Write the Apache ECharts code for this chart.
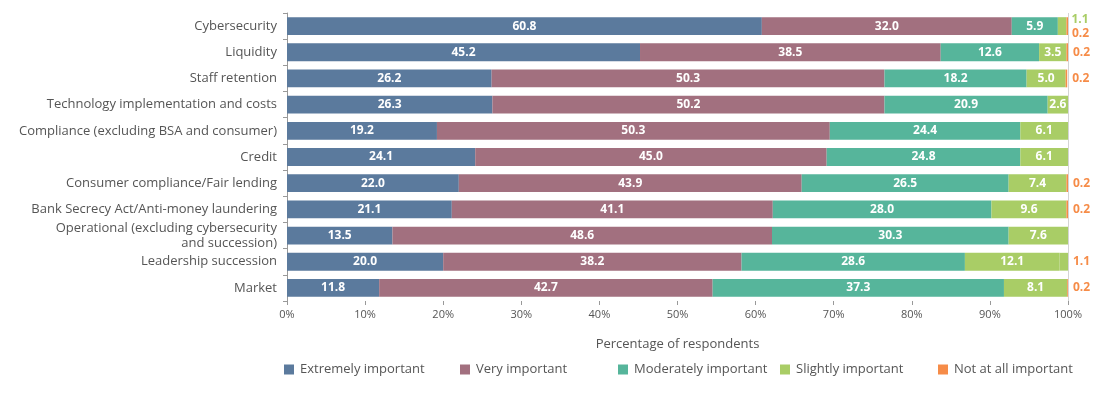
<!DOCTYPE html>
<html>
<head>
    <meta charset="UTF-8">
    <title>Risk importance</title>
    <script src="https://cdn.jsdelivr.net/npm/echarts@6/dist/echarts.min.js"></script>
    <style type="text/css">
        html, body, #main {
            height: 100%;
            width: 100%;
            margin: 0;
            padding: 0;
            background: #fff;
        }
    </style>
</head>
<body>
<div id="main"></div>
<script type="text/javascript">
    // categories, top to bottom
    var categories = [
        'Cybersecurity', 'Liquidity', 'Staff retention', 'Technology implementation and costs',
        'Compliance (excluding BSA and consumer)', 'Credit', 'Consumer compliance/Fair lending',
        'Bank Secrecy Act/Anti-money laundering', 'Operational (excluding cybersecurity\nand succession)',
        'Leadership succession', 'Market'
    ];
    var seriesNames = ['Extremely important', 'Very important', 'Moderately important', 'Slightly important', 'Not at all important'];
    var extremely = [60.8, 45.2, 26.2, 26.3, 19.2, 24.1, 22.0, 21.1, 13.5, 20.0, 11.8];
    var very = [32.0, 38.5, 50.3, 50.2, 50.3, 45.0, 43.9, 41.1, 48.6, 38.2, 42.7];
    var moderately = [5.9, 12.6, 18.2, 20.9, 24.4, 24.8, 26.5, 28.0, 30.3, 28.6, 37.3];
    var slightly = [1.1, 3.5, 5.0, 2.6, 6.1, 6.1, 7.4, 9.6, 7.6, 12.1, 8.1];
    var notAtAll = [0.2, 0.2, 0.2, 0, 0, 0, 0.2, 0.2, 0, 1.1, 0.2];
    var xTicks = [0, 10, 20, 30, 40, 50, 60, 70, 80, 90, 100];

    var colors = ['#5b7a9d', '#a2707f', '#56b59b', '#a9cd66', '#f68c48'];
    var font = 'Open Sans';
    // legend item x positions (px), one legend block per item
    var legendLeft = [279, 455, 613, 775, 933];

    var mycharts = echarts.init(document.getElementById('main'));

    function fmt(p) {
        return p.value > 0 ? p.value.toFixed(1) : '';
    }

    // build series from arrays
    var raw = [extremely, very, moderately, slightly, notAtAll];
    var series = raw.map(function (arr, i) {
        var s = {
            name: seriesNames[i],
            type: 'bar',
            stack: 'total',
            barWidth: '68%',
            itemStyle: {color: colors[i]},
            label: {
                show: true,
                position: 'inside',
                color: '#fff',
                fontWeight: 'bold',
                fontFamily: font,
                fontSize: 12,
                formatter: fmt
            },
            data: arr.slice()
        };
        if (i === 3) {
            // cybersecurity slightly value sits outside, above the 0.2
            s.data[0] = {
                value: arr[0],
                label: {position: 'right', distance: 5, color: colors[3], offset: [0, -7]}
            };
        }
        if (i === 4) {
            s.label = {
                show: true,
                position: 'right',
                distance: 5,
                color: colors[4],
                fontWeight: 'bold',
                fontFamily: font,
                fontSize: 12,
                formatter: fmt
            };
            s.data[0] = {value: arr[0], label: {offset: [-1, 7]}};
            s.data[9] = {value: arr[9], itemStyle: {color: colors[3]}};
            s.markLine = {
                silent: true,
                symbol: 'none',
                label: {show: false},
                lineStyle: {color: '#d4d4d4', width: 1, type: 'solid'},
                data: [{xAxis: 100}]
            };
        }
        return s;
    });

    var legends = seriesNames.map(function (n, i) {
        return {
            top: 358,
            left: legendLeft[i],
            itemWidth: 10,
            itemHeight: 10,
            itemGap: 6,
            icon: 'rect',
            textStyle: {color: '#555', fontSize: 13, fontFamily: font, padding: [0, 0, 0, 1]},
            data: [n]
        };
    });

    var option = {
        animation: false,
        color: colors,
        grid: {left: 287, right: 39, top: 13, bottom: 99},
        legend: legends,
        xAxis: {
            type: 'value',
            min: 0,
            max: 100,
            interval: 10,
            name: 'Percentage of respondents',
            nameLocation: 'middle',
            nameGap: 37,
            nameTextStyle: {color: '#555', fontSize: 13, fontFamily: font},
            axisLine: {show: false},
            axisTick: {show: true, length: 4, lineStyle: {color: '#999'}},
            splitLine: {show: false},
            axisLabel: {
                color: '#555', fontSize: 11, fontFamily: font, margin: 8,
                formatter: function (v) { return xTicks.indexOf(v) >= 0 ? v + '%' : ''; }
            }
        },
        yAxis: {
            type: 'category',
            inverse: true,
            data: categories,
            axisLine: {show: true, lineStyle: {color: '#999'}},
            axisTick: {show: true, length: 4, lineStyle: {color: '#999'}},
            axisLabel: {color: '#555', fontSize: 13, fontFamily: font, margin: 10, lineHeight: 15}
        },
        series: series
    };
    mycharts.setOption(option);
</script>
</body>
</html>
